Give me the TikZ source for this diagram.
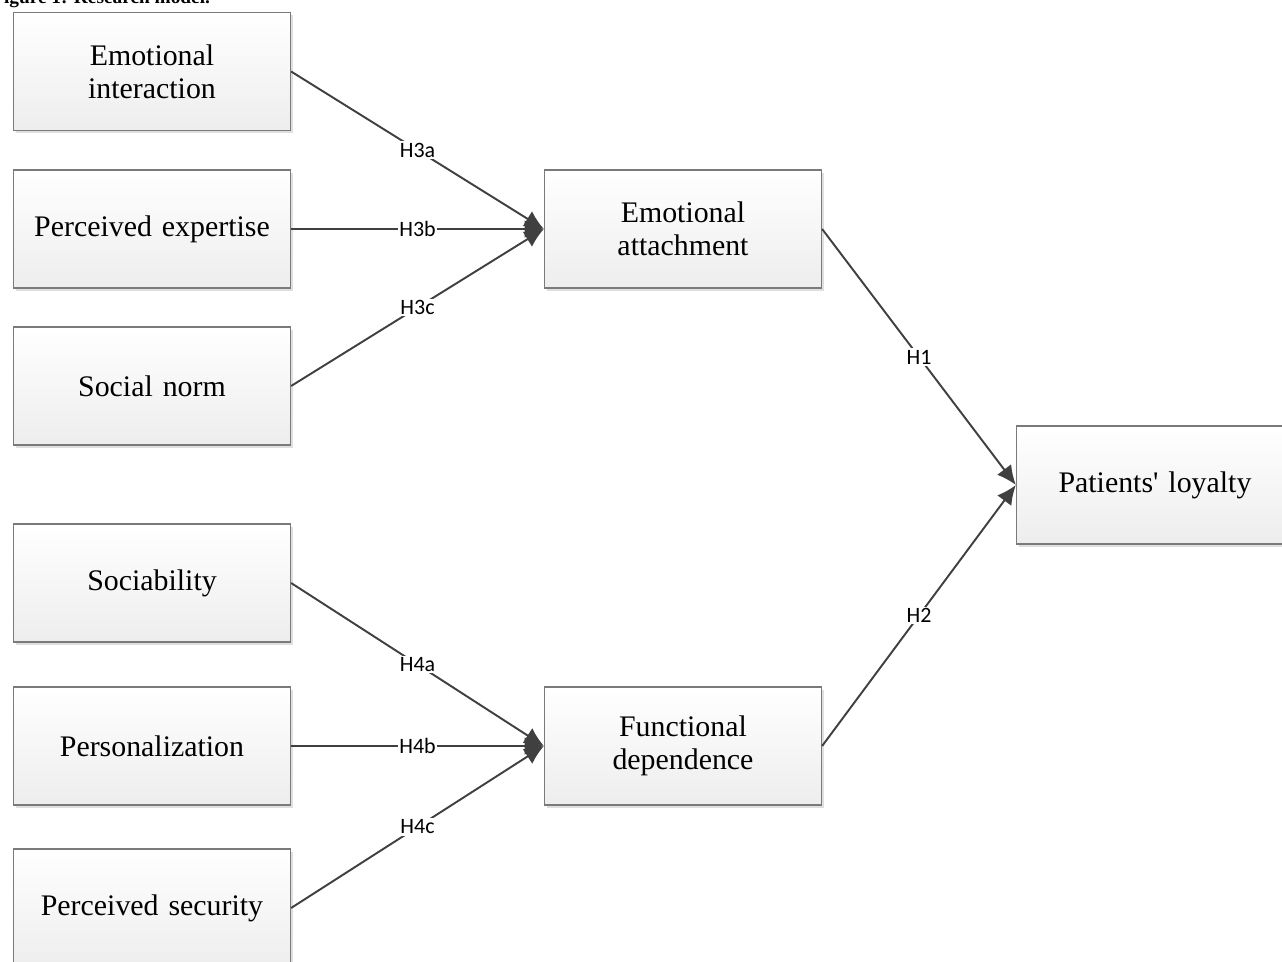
\documentclass[tikz,border=0pt]{standalone}
\usepackage{fontspec}
\setmainfont{Liberation Serif}
\newfontfamily\labelfont{Carlito}
\usetikzlibrary{arrows.meta,shadows}

\definecolor{linegray}{HTML}{404040}
\definecolor{boxgray}{HTML}{7A7A7A}

\tikzset{
  factor/.style={draw=boxgray, line width=0.9pt, top color=white, bottom color=black!7,
    minimum width=5.52cm, minimum height=2.36cm, align=center, text width=5.3cm,
    font=\fontsize{17}{19}\selectfont,
    drop shadow={shadow xshift=1.5pt, shadow yshift=-1.5pt, opacity=0.25}},
  path/.style={draw=linegray, line width=1.1pt, -{Latex[length=11pt,width=10pt]}},
  hyp/.style={fill=white, inner sep=1pt, text=black, font=\labelfont\fontsize{12.5}{13}\selectfont}
}

\begin{document}
\begin{tikzpicture}[x=0.02cm, y=-0.02cm]

\clip (0,0) rectangle (1282,962);

\node[anchor=base west, font=\bfseries\fontsize{11}{12}\selectfont] (cap) at (-14,4) {Figure 1: Research model.};

\node[factor] (ei) at (152, 71.5) {Emotional\\interaction};
\node[factor] (pe) at (152, 229) {Perceived expertise};
\node[factor] (sn) at (152, 386) {Social norm};

\node[factor] (so) at (152, 583) {Sociability};
\node[factor] (pz) at (152, 746) {Personalization};
\node[factor] (ps) at (152, 908) {Perceived security};

\node[factor] (ea) at (683, 229) {Emotional\\attachment};
\node[factor] (fd) at (683, 746) {Functional\\dependence};

\node[factor] (pl) at (1155, 485) {Patients\textquotesingle{} loyalty};

\draw[path] (ei.east) -- node[hyp] {H3a} (ea.west);
\draw[path] (pe.east) -- node[hyp] {H3b} (ea.west);
\draw[path] (sn.east) -- node[hyp] {H3c} (ea.west);

\draw[path] (so.east) -- node[hyp] {H4a} (fd.west);
\draw[path] (pz.east) -- node[hyp] {H4b} (fd.west);
\draw[path] (ps.east) -- node[hyp] {H4c} (fd.west);

\draw[path] (ea.east) -- node[hyp] {H1} (pl.west);
\draw[path] (fd.east) -- node[hyp] {H2} (pl.west);

\end{tikzpicture}
\end{document}
